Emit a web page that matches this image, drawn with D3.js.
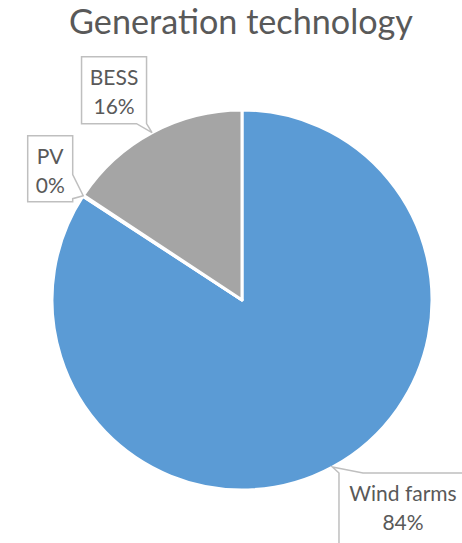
<!DOCTYPE html>
<html>
<head>
<meta charset="utf-8">
<script src="https://cdn.jsdelivr.net/npm/d3@7"></script>
<style>
  html, body { margin: 0; padding: 0; background: #ffffff; }
  svg { display: block; }
</style>
</head>
<body>
<svg id="chart" width="462" height="543"></svg>
<script>
// ---- data ----
const title = "Generation technology";
const categories = ["Wind farms", "PV", "BESS"];
const values = [84.2, 0.1, 15.7];
const colors = ["#5B9BD5", "#ED7D31", "#A5A5A5"];

// ---- layout ----
const W = 462, H = 543;
const cx = 242, cy = 300, R = 190;
const FONT = "Lato, 'Open Sans', sans-serif";
const textColor = "#595959";

const svg = d3.select("#chart");

// title: size for height, horizontal compression for width
const titleSize = 35;
const tg = svg.append("g");
const t = tg.append("text")
  .attr("x", 0).attr("y", 0)
  .attr("text-anchor", "middle")
  .attr("font-family", FONT)
  .attr("font-size", titleSize)
  .attr("fill", textColor)
  .text(title);
{
  const k = 344 / t.node().getComputedTextLength();
  tg.attr("transform", `translate(241,34) scale(${k},1)`);
}

const pie = d3.pie().sort(null).value(d => d)(values);
const arc = d3.arc().innerRadius(0).outerRadius(R);

const g = svg.append("g").attr("transform", `translate(${cx},${cy})`);
g.selectAll("path.slice")
  .data(pie)
  .join("path")
  .attr("class", "slice")
  .attr("d", arc)
  .attr("fill", (d, i) => colors[i])
  .attr("stroke", "#ffffff")
  .attr("stroke-width", 3)
  .attr("stroke-linejoin", "round");

// label font: size for height, compression ratio from "Wind farms" width
const labelSize = 21;
const probe = svg.append("text").attr("font-family", FONT).attr("font-size", labelSize).text("Wind farms");
const kx = Math.min(1, 109 / probe.node().getComputedTextLength());
probe.remove();

function tipOf(d) {
  const a = (d.startAngle + d.endAngle) / 2;
  return [cx + R * Math.sin(a), cy - R * Math.cos(a)];
}

const boxSpec = [
  { w: 128, h: 80, place: (tx, ty) => [tx + 6.5, ty + 6], ptr: "top" },
  { w: 45, h: 66, place: (tx, ty) => [tx - 10.5 - 45, ty + 6 - 66], ptr: "right" },
  { w: 65, h: 67, place: (tx, ty) => [tx - 5.5 - 65, ty - 9 - 67], ptr: "bottom" }
];

pie.forEach((d, i) => {
  const [tx, ty] = tipOf(d);
  const spec = boxSpec[i];
  const [x0, y0] = spec.place(tx, ty);
  const x1 = x0 + spec.w, y1 = y0 + spec.h;
  let p;
  if (spec.ptr === "top") {
    p = [[x0, y1], [x0, y0], [tx, ty], [x0 + 24, y0], [x1, y0], [x1, y1]];
  } else if (spec.ptr === "right") {
    p = [[x0, y0], [x1, y0], [x1, y1 - 27], [tx, ty], [x1, y1 - 3], [x1, y1], [x0, y1]];
  } else {
    p = [[x0, y0], [x1, y0], [x1, y1], [tx, ty], [x1 - 10, y1], [x0, y1]];
  }
  svg.append("path")
    .attr("d", d3.line()(p) + "Z")
    .attr("fill", "#ffffff")
    .attr("stroke", "#BFBFBF")
    .attr("stroke-width", 1.5);

  const mx = (x0 + x1) / 2;
  const lg = svg.append("g").attr("transform", `translate(${mx},${y0}) scale(${kx},1)`);
  const lbl = lg.append("text")
    .attr("font-family", FONT)
    .attr("font-size", labelSize)
    .attr("fill", textColor)
    .attr("text-anchor", "middle");
  lbl.append("tspan").attr("x", 0).attr("y", 28).text(categories[i]);
  lbl.append("tspan").attr("x", 0).attr("y", 57).text(Math.round(d.value) + "%");
});
</script>
</body>
</html>
